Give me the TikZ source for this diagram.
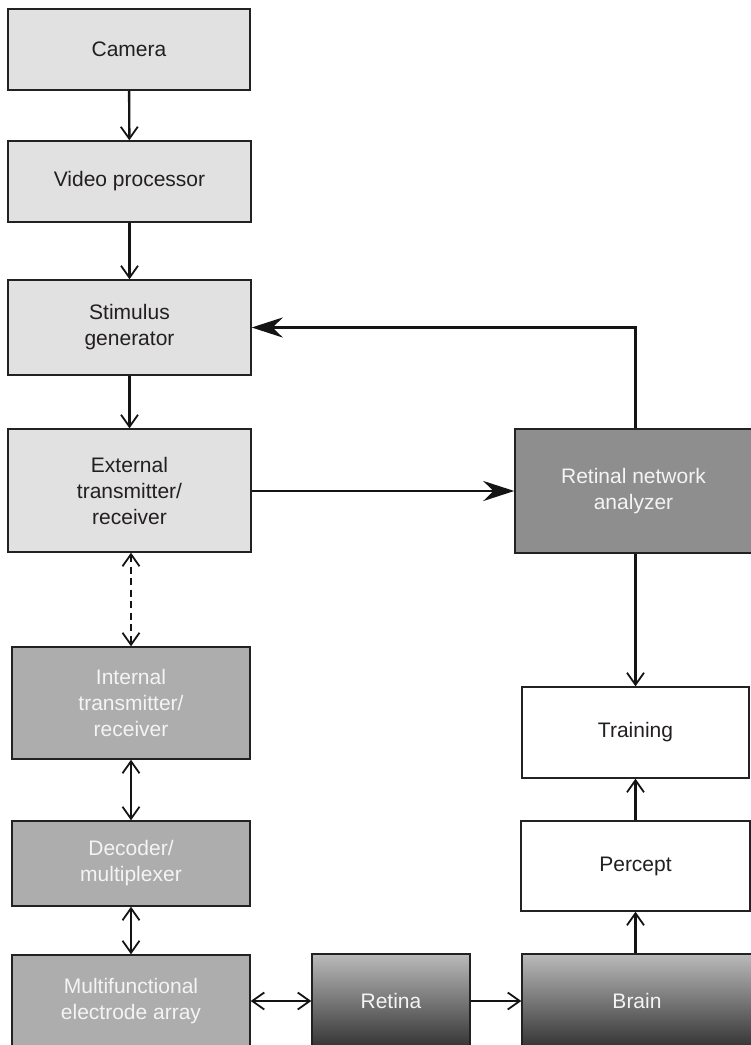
\documentclass[tikz,border=0pt]{standalone}
\usepackage{fontspec}
\setmainfont{Liberation Sans}
\usetikzlibrary{arrows.meta,calc}
\definecolor{lightg}{HTML}{E1E1E1}
\definecolor{midg}{HTML}{ADADAD}
\definecolor{darkg}{HTML}{8E8E8E}
\definecolor{txt}{HTML}{231F20}
\definecolor{wtxt}{HTML}{F4F4F4}
\definecolor{edge}{HTML}{222222}
\tikzset{
  box/.style={draw=edge, line width=1.4pt, inner sep=0pt, align=center,
    font=\fontsize{21}{26}\selectfont},
  lightbox/.style={box, fill=lightg, text=txt},
  midbox/.style={box, fill=midg, text=wtxt},
  darkbox/.style={box, fill=darkg, text=wtxt},
  whitebox/.style={box, fill=white, text=txt},
  shadebox/.style={box, top color=black!27, bottom color=black!80, text=wtxt},
  arr/.style={line width=2.4pt, draw=black!92, -{Straight Barb[length=12pt,width=17pt,line width=1.8pt]}},
  darr/.style={arr, {Straight Barb[length=12pt,width=17pt,line width=1.8pt]}-{Straight Barb[length=12pt,width=17pt,line width=1.8pt]}},
  farr/.style={line width=2.4pt, draw=black!92, -{Stealth[length=31pt,width=20pt,inset=10pt]}},
}
\begin{document}
\begin{tikzpicture}[x=1pt,y=-1pt]
\useasboundingbox (0,0) rectangle (751,1045);
\node[lightbox, minimum width=242pt, minimum height=81pt] (camera) at (129,49.5) {Camera};
\node[lightbox, minimum width=243pt, minimum height=81pt] (video) at (129.5,181.5) {Video processor};
\node[lightbox, minimum width=243pt, minimum height=95pt] (stim) at (129.5,327.5) {Stimulus\\generator};
\node[lightbox, minimum width=243pt, minimum height=123pt] (ext) at (129.5,490.5) {External\\transmitter/\\receiver};
\node[midbox, minimum width=238pt, minimum height=112pt] (int) at (131,703) {Internal\\transmitter/\\receiver};
\node[midbox, minimum width=238pt, minimum height=85pt] (dec) at (131,863.5) {Decoder/\\multiplexer};
\node[midbox, minimum width=238pt, minimum height=92pt] (mea) at (131,1001) {Multifunctional\\electrode array};
\node[darkbox, minimum width=237pt, minimum height=124pt] (rna) at (633.5,491) {Retinal network\\analyzer};
\node[whitebox, minimum width=227pt, minimum height=91pt] (train) at (635.5,732.5) {Training};
\node[whitebox, minimum width=229pt, minimum height=90pt] (percept) at (635.5,866) {Percept};
\node[shadebox, minimum width=158pt, minimum height=94pt] (retina) at (391,1001) {Retina};
\node[shadebox, minimum width=230pt, minimum height=94pt] (brain) at (637,1001) {Brain};

\draw[arr] (camera) -- (video);
\draw[arr] (video) -- (stim);
\draw[arr] (stim) -- (ext);
\draw[darr, dash pattern=on 7pt off 4.5pt] (int.north |- ext.south) -- (int.north);
\draw[darr] (int) -- (dec);
\draw[darr] (dec) -- (mea);
\draw[darr] (mea) -- (retina);
\draw[arr] (retina) -- (brain);
\draw[arr] (brain.north -| train.north) -- (percept.south -| train.north);
\draw[arr] (percept.north -| train.north) -- (train.south);
\draw[arr] (rna.south -| train.north) -- (train.north);
\draw[farr] (ext.east |- rna.west) -- (rna.west);
\draw[farr] (rna.north -| train.north) |- (stim.east);
\end{tikzpicture}
\end{document}
